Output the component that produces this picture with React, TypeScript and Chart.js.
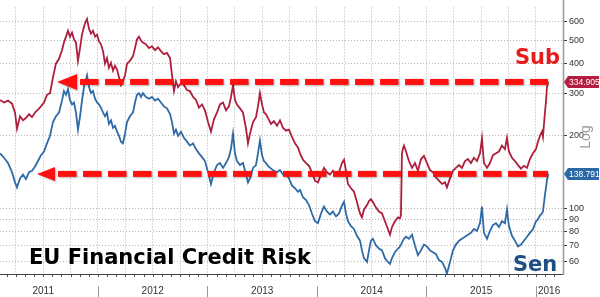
import React, { useEffect, useRef } from 'react';
import { Chart, registerables } from 'chart.js';
Chart.register(...registerables);

// Dates as decimal years
const dates = [
  2011.105, 2011.142, 2011.178, 2011.215, 2011.242, 2011.260, 2011.288, 2011.315, 2011.342, 2011.370,
  2011.397, 2011.425, 2011.452, 2011.479, 2011.507, 2011.534, 2011.562, 2011.589, 2011.616, 2011.644,
  2011.671, 2011.689, 2011.708, 2011.726, 2011.744, 2011.763, 2011.781, 2011.799, 2011.817, 2011.836,
  2011.854, 2011.872, 2011.890, 2011.900, 2011.918, 2011.936, 2011.954, 2011.973, 2011.991, 2012.009,
  2012.027, 2012.046, 2012.064, 2012.082, 2012.100, 2012.119, 2012.137, 2012.155, 2012.174, 2012.192,
  2012.210, 2012.228, 2012.247, 2012.265, 2012.292, 2012.320, 2012.338, 2012.356, 2012.374, 2012.393,
  2012.411, 2012.438, 2012.466, 2012.493, 2012.521, 2012.548, 2012.575, 2012.603, 2012.630, 2012.658,
  2012.676, 2012.694, 2012.712, 2012.731, 2012.758, 2012.785, 2012.813, 2012.840, 2012.868, 2012.895,
  2012.922, 2012.950, 2012.977, 2013.005, 2013.032, 2013.059, 2013.087, 2013.114, 2013.142, 2013.169,
  2013.196, 2013.215, 2013.233, 2013.251, 2013.269, 2013.297, 2013.324, 2013.352, 2013.370, 2013.388,
  2013.416, 2013.443, 2013.461, 2013.479, 2013.498, 2013.516, 2013.534, 2013.553, 2013.580, 2013.607,
  2013.635, 2013.662, 2013.689, 2013.717, 2013.744, 2013.772, 2013.799, 2013.826, 2013.845, 2013.872,
  2013.900, 2013.927, 2013.954, 2013.982, 2014.009, 2014.037, 2014.064, 2014.091, 2014.119, 2014.146,
  2014.174, 2014.201, 2014.228, 2014.247, 2014.265, 2014.283, 2014.311, 2014.338, 2014.365, 2014.393,
  2014.411, 2014.429, 2014.457, 2014.475, 2014.493, 2014.511, 2014.539, 2014.566, 2014.594, 2014.621,
  2014.648, 2014.667, 2014.685, 2014.712, 2014.740, 2014.758, 2014.767, 2014.776, 2014.785, 2014.795,
  2014.813, 2014.840, 2014.868, 2014.895, 2014.922, 2014.950, 2014.977, 2015.005, 2015.032, 2015.059,
  2015.087, 2015.114, 2015.142, 2015.169, 2015.187, 2015.215, 2015.242, 2015.269, 2015.297, 2015.324,
  2015.352, 2015.379, 2015.406, 2015.434, 2015.461, 2015.489, 2015.507, 2015.525, 2015.553, 2015.580,
  2015.607, 2015.635, 2015.662, 2015.689, 2015.717, 2015.735, 2015.753, 2015.781, 2015.808, 2015.836,
  2015.863, 2015.890, 2015.918, 2015.945, 2015.973, 2016.000, 2016.018, 2016.037, 2016.055, 2016.064,
  2016.082, 2016.091, 2016.100, 2016.110,
];

const subValues = [
  282, 275, 280, 272, 250, 214, 241, 232, 237, 246,
  239, 250, 257, 265, 275, 296, 301, 350, 399, 418,
  454, 489, 517, 547, 517, 537, 503, 489, 410, 463,
  527, 568, 600, 612, 557, 532, 547, 517, 527, 494,
  480, 450, 399, 421, 384, 402, 373, 391, 377, 350,
  325, 337, 357, 399, 410, 429, 463, 503, 517, 498,
  489, 480, 463, 471, 454, 467, 450, 437, 442, 421,
  357, 307, 337, 319, 331, 325, 310, 307, 290, 282,
  262, 270, 255, 228, 208, 234, 250, 270, 275, 255,
  265, 290, 325, 282, 270, 260, 250, 214, 186, 204,
  228, 239, 265, 301, 270, 250, 246, 237, 224, 230,
  220, 232, 216, 210, 212, 198, 186, 179, 169, 159,
  154, 150, 141, 130, 128, 138, 147, 141, 138, 143,
  138, 141, 154, 159, 143, 126, 121, 117, 106, 95,
  91.5, 98.7, 103, 107, 109, 106, 100.5, 96.8, 95, 88.2,
  81.9, 77.5, 83.4, 88.2, 91.5, 90.7, 93.3, 169, 177, 182,
  172, 157, 147, 154, 143, 160, 165, 154, 144, 141,
  134, 130, 126, 128, 122, 133, 143, 147, 151, 147,
  157, 160, 154, 162, 157, 169, 195, 154, 147, 154,
  166, 169, 172, 182, 176, 196, 172, 162, 157, 151,
  146, 150, 147, 160, 169, 176, 189, 200, 208, 198,
  250, 275, 316, 334.905,
];

const senValues = [
  169, 162, 154, 141, 128, 122, 133, 138, 132, 141,
  143, 149, 157, 166, 172, 186, 200, 228, 241, 250,
  280, 307, 296, 313, 282, 270, 275, 250, 212, 241,
  280, 319, 343, 357, 319, 301, 307, 285, 275, 270,
  262, 250, 241, 250, 224, 232, 216, 220, 208, 200,
  189, 186, 204, 228, 241, 250, 275, 296, 301, 290,
  301, 290, 285, 290, 280, 285, 275, 265, 260, 246,
  228, 204, 212, 200, 208, 196, 189, 182, 186, 176,
  169, 163, 157, 141, 126, 141, 151, 154, 147, 154,
  163, 177, 204, 169, 157, 151, 154, 138, 128, 133,
  147, 151, 169, 191, 166, 157, 154, 150, 146, 143,
  141, 144, 138, 139, 133, 124, 121, 117, 119, 111,
  108, 103, 95, 88.2, 86.6, 95, 101.5, 96.8, 94.1, 96.8,
  92.4, 95, 102.4, 106.3, 95, 88.2, 84.2, 81.9, 76.7, 73.2,
  66.7, 61.9, 59.7, 66.7, 73.2, 74.6, 69.9, 67.9, 66.7, 61.9,
  59.7, 58.6, 61.9, 65.5, 67.9, 69.2, 70.5, 71.8, 73.2, 74.6,
  76.0, 74.6, 77.5, 69.9, 63.7, 66.7, 70.5, 69.2, 66.7, 65.5,
  64.3, 60.8, 59.7, 56.4, 53.4, 59.7, 66.7, 70.5, 73.2, 74.6,
  76.0, 77.5, 78.9, 81.9, 80.4, 86.6, 101.5, 78.9, 74.6, 80.4,
  85.0, 86.6, 83.4, 88.2, 86.6, 98.7, 84.2, 76.7, 73.2, 69.2,
  70.5, 73.2, 76.0, 78.9, 81.9, 88.2, 89.8, 93.3, 95, 96.8,
  113.4, 121, 130.4, 138.791,
];

const yTicks = [60, 70, 80, 90, 100, 200, 300, 400, 500, 600];
const yearLabels = ['2011', '2012', '2013', '2014', '2015', '2016'];
const yearLabelPositions = [2011.5, 2012.5, 2013.5, 2014.5, 2015.5, 2016.12];
const yearBoundaries = [2012, 2013, 2014, 2015, 2016];
const quarterGrid = [
  2011.25, 2011.5, 2011.75, 2012, 2012.25, 2012.5, 2012.75, 2013, 2013.25, 2013.5,
  2013.75, 2014, 2014.25, 2014.5, 2014.75, 2015, 2015.25, 2015.5, 2015.75, 2016,
];
const subLast = 334.905;
const senLast = 138.791;
const subArrowTip = 2011.626;
const senArrowTip = 2011.443;
const xMin = 2011.105;
const xMax = 2016.247;
const yMin = 53.2;
const yMax = 684;

const SUB_COLOR = '#ad1f3c';
const SEN_COLOR = '#2e6aa6';
const NARROW = '"Liberation Sans Narrow", "Liberation Sans", Arial, sans-serif';

function dashedArrow(ctx: CanvasRenderingContext2D, yPix: number, tipX: number, endX: number, headLen: number, half: number) {
  ctx.save();
  ctx.fillStyle = '#ff1010';
  ctx.shadowColor = 'rgba(0,0,0,0.3)';
  ctx.shadowBlur = 2;
  ctx.shadowOffsetX = 1;
  ctx.shadowOffsetY = 1;
  ctx.beginPath();
  ctx.moveTo(tipX, yPix);
  ctx.lineTo(tipX + headLen, yPix - half);
  ctx.lineTo(tipX + headLen, yPix + half);
  ctx.closePath();
  ctx.fill();
  for (let sx = tipX + headLen + 3; sx < endX; sx += 25) {
    const ex = Math.min(sx + 18.5, endX);
    ctx.fillRect(sx, yPix - 3, ex - sx, 6);
  }
  ctx.restore();
}

function valueTag(ctx: CanvasRenderingContext2D, x0: number, yPix: number, text: string, color: string) {
  const h = 12;
  const w = 35;
  ctx.save();
  ctx.fillStyle = color;
  ctx.beginPath();
  ctx.moveTo(x0, yPix);
  ctx.lineTo(x0 + 4, yPix - h / 2);
  ctx.lineTo(x0 + w, yPix - h / 2);
  ctx.lineTo(x0 + w, yPix + h / 2);
  ctx.lineTo(x0 + 4, yPix + h / 2);
  ctx.closePath();
  ctx.fill();
  ctx.fillStyle = '#ffffff';
  ctx.font = '8.5px ' + NARROW;
  ctx.textAlign = 'left';
  ctx.textBaseline = 'middle';
  ctx.fillText(text, x0 + 5, yPix + 0.5);
  ctx.restore();
}

const overlayPlugin = {
  id: 'overlay',
  afterDraw(chart: any) {
    const { ctx, chartArea } = chart;
    const x = chart.scales.x;
    const y = chart.scales.y;
    const { left, right, bottom } = chartArea;
    ctx.save();
    // monthly ticks
    ctx.strokeStyle = '#555';
    ctx.lineWidth = 1;
    ctx.beginPath();
    for (let m = 0; m <= 72; m++) {
      const v = 2011 + m / 12;
      if (v < xMin || v > xMax) continue;
      const px = Math.round(x.getPixelForValue(v)) + 0.5;
      ctx.moveTo(px, bottom);
      ctx.lineTo(px, bottom + 3);
    }
    ctx.stroke();
    // year separators
    ctx.strokeStyle = '#999';
    ctx.beginPath();
    yearBoundaries.forEach((yr) => {
      const px = Math.round(x.getPixelForValue(yr)) + 0.5;
      ctx.moveTo(px, bottom + 12);
      ctx.lineTo(px, bottom + 23);
    });
    ctx.stroke();
    // axis lines
    ctx.strokeStyle = '#444';
    ctx.lineWidth = 1;
    ctx.beginPath();
    ctx.moveTo(left, Math.round(bottom) + 0.5);
    ctx.lineTo(right + 1, Math.round(bottom) + 0.5);
    ctx.stroke();
    ctx.strokeStyle = '#999';
    ctx.lineWidth = 1.5;
    ctx.beginPath();
    ctx.moveTo(right + 0.5, 0);
    ctx.lineTo(right + 0.5, bottom + 1);
    ctx.stroke();
    ctx.restore();

    // arrows
    const endX = x.getPixelForValue(dates[dates.length - 1]);
    dashedArrow(ctx, y.getPixelForValue(subLast), x.getPixelForValue(subArrowTip), endX, 20, 8);
    dashedArrow(ctx, y.getPixelForValue(senLast), x.getPixelForValue(senArrowTip), endX, 18, 7);

    // texts
    ctx.save();
    ctx.textAlign = 'left';
    ctx.textBaseline = 'alphabetic';
    ctx.font = 'bold 21px "DejaVu Sans", Verdana, sans-serif';
    ctx.fillStyle = '#000000';
    ctx.fillText('EU Financial Credit Risk', 29, 264);
    ctx.fillStyle = '#ea1a1a';
    ctx.fillText('Sub', 515, 64);
    ctx.fillStyle = '#1d4f86';
    ctx.fillText('Sen', 513, 271);
    ctx.restore();

    // value tags
    valueTag(ctx, right + 1, y.getPixelForValue(subLast), subLast.toFixed(3), '#b41c40');
    valueTag(ctx, right + 1, y.getPixelForValue(senLast), senLast.toFixed(3), '#2b68a6');

    // Log label
    ctx.save();
    ctx.translate(586, 137);
    ctx.rotate(-Math.PI / 2);
    ctx.font = '14px "Liberation Sans", Arial, sans-serif';
    ctx.fillStyle = '#9a9a9a';
    ctx.textAlign = 'center';
    ctx.textBaseline = 'middle';
    ctx.fillText('Log', 0, 0);
    ctx.restore();
  },
};

export default function App() {
  const canvasRef = useRef<HTMLCanvasElement | null>(null);

  useEffect(() => {
    document.body.style.margin = '0';
    const canvas = canvasRef.current;
    if (!canvas) return;
    const chart = new Chart(canvas, {
      type: 'line',
      data: {
        datasets: [
          {
            label: 'Sen',
            data: dates.map((d, i) => ({ x: d, y: senValues[i] })),
            borderColor: SEN_COLOR,
            borderWidth: 1.8,
            pointRadius: 0,
            tension: 0,
          },
          {
            label: 'Sub',
            data: dates.map((d, i) => ({ x: d, y: subValues[i] })),
            borderColor: SUB_COLOR,
            borderWidth: 1.8,
            pointRadius: 0,
            tension: 0,
          },
        ],
      },
      options: {
        animation: false,
        responsive: false,
        devicePixelRatio: 1,
        layout: { padding: 0 },
        plugins: {
          legend: { display: false },
          tooltip: { enabled: false },
          title: { display: false },
        },
        scales: {
          x: {
            type: 'linear',
            position: 'bottom',
            min: xMin,
            max: xMax,
            bounds: 'data',
            afterBuildTicks: (scale: any) => {
              scale.ticks = [...quarterGrid, yearLabelPositions[yearLabelPositions.length - 1]].map((v) => ({ value: v }));
            },
            afterFit: (scale: any) => {
              scale.height = 23;
            },
            ticks: {
              autoSkip: false,
              maxRotation: 0,
              padding: 11,
              color: '#333',
              font: { size: 10, family: NARROW },
              callback: (value: any) => {
                const idx = yearLabelPositions.findIndex((p) => Math.abs(p - Number(value)) < 1e-6);
                return idx >= 0 ? yearLabels[idx] : '';
              },
            },
            grid: {
              drawTicks: false,
              color: (c: any) =>
                c.tick && Math.abs(c.tick.value - yearLabelPositions[yearLabelPositions.length - 1]) < 1e-6
                  ? 'rgba(0,0,0,0)'
                  : '#b5b5b5',
              lineWidth: 1,
            },
            border: { display: false, dash: [1, 2] },
          },
          y: {
            type: 'logarithmic',
            position: 'right',
            min: yMin,
            max: yMax,
            bounds: 'data',
            afterBuildTicks: (scale: any) => {
              scale.ticks = yTicks.map((v) => ({ value: v }));
            },
            afterFit: (scale: any) => {
              scale.width = 37;
            },
            ticks: {
              autoSkip: false,
              padding: 2,
              color: '#333',
              font: { size: 9, family: NARROW },
              callback: (value: any) => String(value),
            },
            grid: {
              color: '#b5b5b5',
              lineWidth: 1,
              tickLength: 4,
              tickColor: '#333',
              tickWidth: 1,
              tickBorderDash: [],
            },
            border: { display: false, dash: [1, 2] },
          },
        },
      },
      plugins: [overlayPlugin],
    });
    return () => chart.destroy();
  }, []);

  return (
    <div style={{ width: 600, height: 297 }}>
      <canvas ref={canvasRef} width={600} height={297} style={{ display: 'block' }} />
    </div>
  );
}
